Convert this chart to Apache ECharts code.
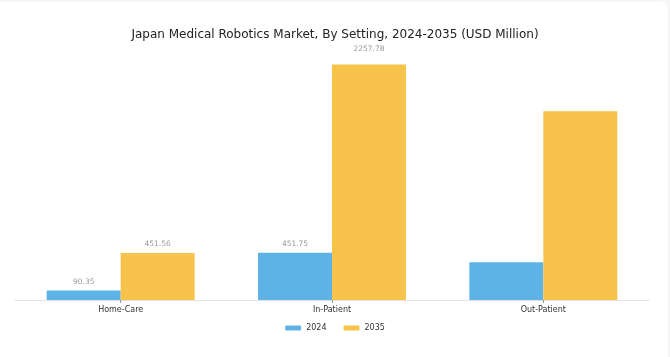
<!DOCTYPE html>
<html>
<head>
<meta charset="utf-8">
<script src="https://cdn.jsdelivr.net/npm/echarts@6/dist/echarts.min.js"></script>
<style>
html,body{margin:0;padding:0;background:#f6f6f6;overflow:hidden;}
#card{position:absolute;left:-10px;top:2px;width:678px;height:370px;background:#fff;border-radius:8px;}
#chart{position:absolute;left:0;top:0;width:670px;height:357px;}
</style>
</head>
<body>
<div id="card"></div>
<div id="chart"></div>
<script>
const titleText = 'Japan Medical Robotics Market, By Setting, 2024-2035 (USD Million)';
const categories = ['Home-Care', 'In-Patient', 'Out-Patient'];
const seriesNames = ['2024', '2035'];
const values2024 = [90.35, 451.75, 362];
const values2035 = [451.56, 2257.78, 1810];
const showLabel = [true, true, false];

const FONT = '"DejaVu Sans", sans-serif';
const colors = ['#5db3e6', '#f8c34a'];

function mkData(vals) {
  return vals.map((v, i) => {
    const d = { value: v };
    if (!showLabel[i]) d.label = { show: false };
    else if (v > 2000) d.label = { show: true, distance: 11 };
    return d;
  });
}

const chart = echarts.init(document.getElementById('chart'), null, { renderer: 'canvas' });
chart.setOption({
  backgroundColor: 'transparent',
  animation: false,
  title: {
    text: titleText,
    left: 'center',
    top: 24,
    textStyle: { fontFamily: FONT, fontSize: 12, fontWeight: 'normal', color: '#222' }
  },
  legend: {
    data: seriesNames,
    left: 'center',
    top: 319,
    itemWidth: 16,
    itemHeight: 5,
    itemGap: 17,
    icon: 'roundRect',
    textStyle: { fontFamily: FONT, fontSize: 8, color: '#333' }
  },
  grid: { left: 15, right: 21, top: 60, bottom: 57, containLabel: false },
  xAxis: {
    type: 'category',
    data: categories,
    axisLine: { lineStyle: { color: '#e2e2e2', width: 1 } },
    axisTick: { show: true, alignWithLabel: true, length: 3, lineStyle: { color: '#999' } },
    axisLabel: { fontFamily: FONT, fontSize: 8, color: '#333', margin: 6 }
  },
  yAxis: {
    type: 'value',
    min: 0,
    max: 2300,
    show: false,
    splitLine: { show: false }
  },
  series: [
    {
      name: seriesNames[0],
      type: 'bar',
      data: mkData(values2024),
      itemStyle: { color: colors[0] },
      barGap: '0%',
      barCategoryGap: '30%',
      label: { show: true, position: 'top', distance: 5, fontFamily: FONT, fontSize: 7.5, color: '#999' }
    },
    {
      name: seriesNames[1],
      type: 'bar',
      data: mkData(values2035),
      itemStyle: { color: colors[1] },
      barGap: '0%',
      barCategoryGap: '30%',
      label: { show: true, position: 'top', distance: 5, fontFamily: FONT, fontSize: 7.5, color: '#999' }
    }
  ]
});
</script>
</body>
</html>
